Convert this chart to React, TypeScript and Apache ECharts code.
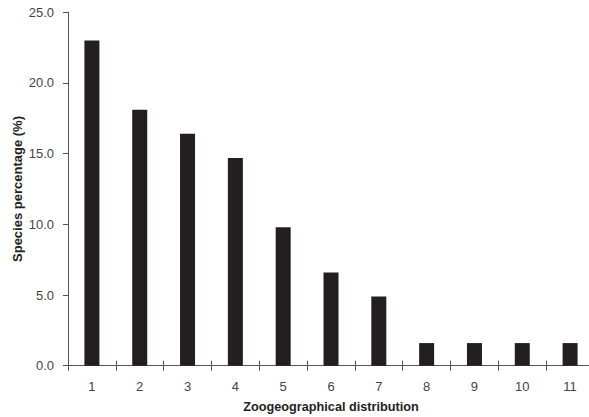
import React, { useEffect, useRef } from "react";
import * as echarts from "echarts";

const categories = ["1", "2", "3", "4", "5", "6", "7", "8", "9", "10", "11"];
const speciesPercentage = [23.0, 18.1, 16.4, 14.7, 9.8, 6.6, 4.9, 1.6, 1.6, 1.6, 1.6];

export default function App() {
  const ref = useRef<HTMLDivElement>(null);
  useEffect(() => {
    if (!ref.current) return;
    const chart = echarts.init(ref.current, undefined, { renderer: "svg" });
    const font = "'Liberation Sans', Arial, sans-serif";
    chart.setOption({
      animation: false,
      grid: { left: 68, top: 12.3, bottom: 51.3, right: -5, containLabel: false, outerBoundsMode: "none" },
      xAxis: [
        {
          type: "category",
          data: categories,
          boundaryGap: true,
          axisLine: { lineStyle: { color: "#555", width: 1 } },
          axisTick: { show: true, alignWithLabel: false, length: 5, lineStyle: { color: "#555" } },
          axisLabel: { color: "#444", fontSize: 13, fontFamily: font, margin: 14 },
          name: "Zoogeographical distribution",
          nameLocation: "middle",
          nameGap: 35,
          nameMoveOverlap: false,
          nameTextStyle: { color: "#222", fontSize: 12.7, fontWeight: "bold", fontFamily: font },
        },
        {
          type: "category",
          data: categories,
          position: "bottom",
          boundaryGap: true,
          axisLine: { show: false },
          axisTick: { show: true, inside: true, length: 5, lineStyle: { color: "#555" } },
          axisLabel: { show: false },
        },
      ],
      yAxis: {
        type: "value",
        min: 0,
        max: 25,
        interval: 5,
        axisLine: { show: true, lineStyle: { color: "#555", width: 1 } },
        axisTick: { show: true, length: 5, lineStyle: { color: "#555" } },
        splitLine: { show: false },
        axisLabel: {
          color: "#444",
          fontSize: 13,
          fontFamily: font,
          margin: 14,
          formatter: (v: number) => v.toFixed(1),
        },
        name: "Species percentage (%)",
        nameLocation: "middle",
        nameGap: 44,
        nameMoveOverlap: false,
        nameTextStyle: { color: "#222", fontSize: 13, fontWeight: "bold", fontFamily: font },
      },
      series: [
        {
          type: "bar",
          data: speciesPercentage,
          barWidth: 15,
          itemStyle: { color: "#231f20" },
        },
      ],
    });
    return () => chart.dispose();
  }, []);
  return <div ref={ref} style={{ width: 589, height: 417, position: "absolute", left: 0, top: 0 }} />;
}
